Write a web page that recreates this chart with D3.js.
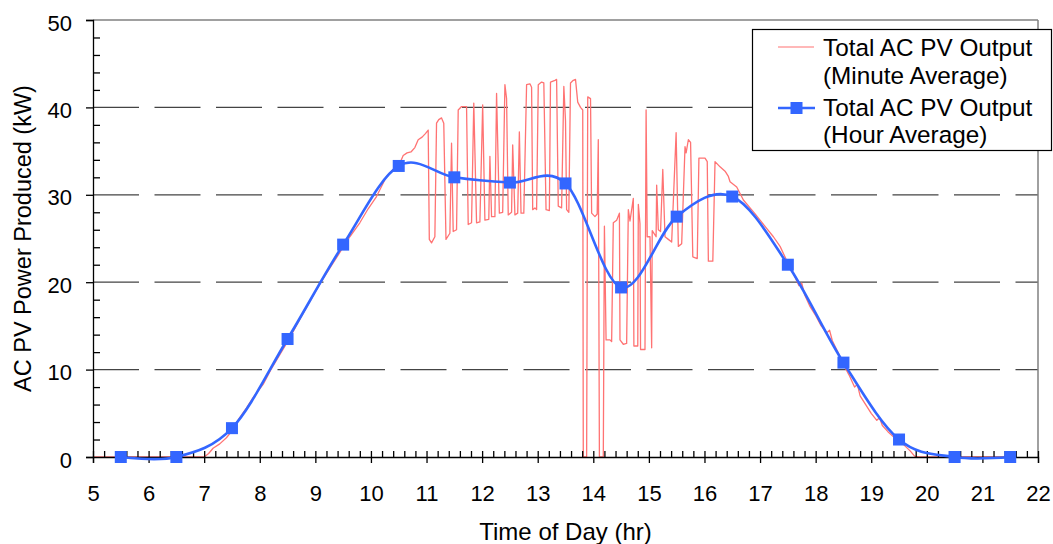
<!DOCTYPE html>
<html>
<head>
<meta charset="utf-8">
<script src="https://cdn.jsdelivr.net/npm/d3@7"></script>
<style>
  html, body { margin: 0; padding: 0; background: #fff; }
  svg { display: block; font-family: "Liberation Sans", Arial, sans-serif; }
</style>
</head>
<body>
<svg id="chart" width="1053" height="544"></svg>
<script>
// ---------------- DATA ----------------
const xTickValues = [5,6,7,8,9,10,11,12,13,14,15,16,17,18,19,20,21,22];
const yTickValues = [0,10,20,30,40,50];
const gridValues = [10,20,30,40];

const hourTimes  = [5.5,6.5,7.5,8.5,9.5,10.5,11.5,12.5,13.5,14.5,15.5,16.5,17.5,18.5,19.5,20.5,21.5];
const hourValues = [0,0,3.3,13.5,24.3,33.3,32.0,31.4,31.3,19.4,27.5,29.8,22.0,10.8,2.0,0,0];

const minuteTimes = [
  5.0,7.0,7.08,7.16,7.28,7.4,7.5,7.64,7.76,7.88,8.06,8.2,8.35,8.5,8.7,8.9,9.1,9.3,9.5,9.62,9.8,9.95,10.1,10.28,10.4,10.5,
  10.58,10.65,10.72,10.79,10.85,10.92,10.98,11.03,11.05,11.09,11.15,11.18,11.22,11.27,11.31,11.35,11.42,11.45,11.48,11.54,
  11.57,11.63,11.72,11.75,11.81,11.85,11.90,11.96,12.01,12.05,12.12,12.14,12.17,12.23,12.26,12.31,12.37,12.41,12.44,12.47,
  12.53,12.55,12.59,12.64,12.67,12.70,12.75,12.80,12.86,12.89,12.91,12.95,12.98,13.01,13.07,13.11,13.15,13.21,13.23,13.31,
  13.34,13.37,13.43,13.47,13.50,13.52,13.56,13.59,13.64,13.68,13.72,13.77,13.81,13.82,13.88,13.90,13.95,13.97,14.03,14.07,
  14.09,14.11,14.18,14.20,14.23,14.30,14.33,14.36,14.42,14.47,14.48,14.54,14.60,14.63,14.66,14.72,14.73,14.80,14.81,14.84,
  14.85,14.93,14.95,14.97,15.02,15.05,15.06,15.13,15.14,15.17,15.21,15.25,15.29,15.35,15.41,15.49,15.53,15.59,15.65,15.67,
  15.71,15.75,15.79,15.87,15.90,16.01,16.05,16.07,16.15,16.19,16.28,16.37,16.43,16.46,
  16.58,16.7,16.82,16.9,17.0,17.1,17.24,17.36,17.5,17.6,17.7,17.75,17.8,17.9,18.0,18.1,18.2,18.25,18.3,18.4,18.5,18.6,18.7,
  18.75,18.8,18.9,19.0,19.1,19.15,19.2,19.3,19.4,19.5,19.6,19.7,19.78,19.85,21.5
];
const minuteValues = [
  0,0,0.4,1.0,1.5,2.2,3.0,4.5,5.6,6.8,8.3,10.0,11.6,13.2,15.5,17.8,20.0,22.0,24.0,25.2,26.8,28.4,29.8,32.1,32.9,33.3,
  34.5,34.8,34.9,35.4,36.3,36.6,37.0,37.4,24.9,24.5,25.2,38.2,38.6,38.8,38.2,24.9,25.6,35.9,25.8,26.0,
  39.7,40.1,40.1,26.6,26.8,40.5,26.8,26.9,40.3,27.1,27.2,34.4,27.5,27.5,41.6,27.9,28.0,42.6,41.0,27.7,
  28.0,35.7,27.7,27.9,37.2,27.9,27.9,42.6,42.7,42.3,28.3,28.5,28.3,42.6,42.9,42.8,28.3,28.2,42.9,43.1,
  43.2,28.7,28.5,42.4,38.5,28.3,28.0,42.8,43.1,43.2,40.6,40.0,39.7,0,0,41.2,41.0,27.9,27.5,27.8,
  36.3,0,0,26.4,13.4,13.4,13.2,26.8,27.1,27.9,13.4,12.9,13.0,28.3,27.0,29.6,12.7,12.7,28.9,26.7,
  12.3,12.3,39.7,25.2,25.2,12.5,25.9,25.2,31.1,26.0,25.8,32.9,25.2,24.9,24.6,37.1,24.1,24.4,35.5,34.8,
  36.3,36.0,22.9,22.7,34.2,34.2,33.8,22.4,22.4,33.8,33.2,32.7,32.1,31.5,
  30.9,29.4,28.5,27.9,27.1,26.3,25.2,24.1,22.2,21.0,19.6,19.9,18.6,17.2,16.2,15.0,14.2,14.5,13.3,12.0,10.6,9.4,8.0,
  8.3,7.0,6.0,5.0,4.2,4.5,3.6,2.9,2.3,1.9,1.3,0.7,0.1,0,0
];

const seriesNames = ["Total AC PV Output", "(Minute Average)", "Total AC PV Output", "(Hour Average)"];
const xTitle = "Time of Day (hr)";
const yTitle = "AC PV Power Produced (kW)";

// ---------------- CHART ----------------
const svg = d3.select("#chart");
const x = d3.scaleLinear().domain([5,22]).range([93,1038]);
const y = d3.scaleLinear().domain([0,50]).range([457,20]);
const FONT = "Liberation Sans, Arial, sans-serif";

// gridlines (dashed)
svg.append("g").selectAll("line").data(gridValues).join("line")
  .attr("x1", x(5)).attr("x2", x(22))
  .attr("y1", d => y(d)).attr("y2", d => y(d))
  .attr("stroke", "#444").attr("stroke-width", 1.2)
  .attr("stroke-dasharray", "46,15.5");

// top and right border
svg.append("line").attr("x1", x(5)).attr("x2", x(22)).attr("y1", y(50)).attr("y2", y(50))
  .attr("stroke", "#808080").attr("stroke-width", 1.5);
svg.append("line").attr("x1", x(22)).attr("x2", x(22)).attr("y1", y(50)).attr("y2", y(0))
  .attr("stroke", "#808080").attr("stroke-width", 1.5);

// minute series
const minuteData = minuteTimes.map((t, i) => [t, minuteValues[i]]);
svg.append("path").datum(minuteData)
  .attr("fill", "none").attr("stroke", "#ff7373").attr("stroke-width", 1.3)
  .attr("stroke-linejoin", "round")
  .attr("d", d3.line().x(d => x(d[0])).y(d => y(d[1])));

// y axis
const yMinor = d3.range(0, 50.01, 2).filter(v => v % 10 !== 0);
const yAxisG = svg.append("g").attr("transform", `translate(${x(5)},0)`)
  .call(d3.axisLeft(y).tickValues(yTickValues).tickSize(7).tickPadding(14).tickFormat(d3.format("d")));
yAxisG.select(".domain").attr("stroke", "#000").attr("stroke-width", 1.3);
yAxisG.selectAll(".tick line").attr("stroke", "#000").attr("stroke-width", 1.3);
yAxisG.selectAll(".tick text").attr("font-family", FONT).attr("font-size", 22)
  .attr("fill", "#000").attr("dy", "0.46em");
const yMinorG = svg.append("g").attr("transform", `translate(${x(5)},0)`)
  .call(d3.axisRight(y).tickValues(yMinor).tickSize(7).tickFormat(""));
yMinorG.select(".domain").remove();
yMinorG.selectAll(".tick line").attr("stroke", "#000").attr("stroke-width", 1.3);

// x axis
const xMinor = d3.range(5, 22.001, 0.2).filter(v => Math.abs(v - Math.round(v)) > 0.01);
const xAxisG = svg.append("g").attr("transform", `translate(0,${y(0)})`)
  .call(d3.axisBottom(x).tickValues(xTickValues).tickSize(6).tickPadding(22).tickFormat(d3.format("d")));
xAxisG.select(".domain").attr("stroke", "#000").attr("stroke-width", 1.3);
xAxisG.selectAll(".tick line").attr("y1", -6).attr("y2", 6).attr("stroke", "#000").attr("stroke-width", 1.3);
xAxisG.selectAll(".tick text").attr("font-family", FONT).attr("font-size", 22).attr("fill", "#000");
const xMinorG = svg.append("g").attr("transform", `translate(0,${y(0)})`)
  .call(d3.axisTop(x).tickValues(xMinor).tickSize(6).tickFormat(""));
xMinorG.select(".domain").remove();
xMinorG.selectAll(".tick line").attr("stroke", "#000").attr("stroke-width", 1.3);

// hour series (smoothed)
const hourData = hourTimes.map((t, i) => [t, hourValues[i]]);
svg.append("path").datum(hourData)
  .attr("fill", "none").attr("stroke", "#3366ff").attr("stroke-width", 2.6)
  .attr("d", d3.line().x(d => x(d[0])).y(d => y(d[1])).curve(d3.curveCardinal.tension(0)));
svg.append("g").selectAll("rect").data(hourData).join("rect")
  .attr("x", d => x(d[0]) - 6).attr("y", d => y(d[1]) - 6)
  .attr("width", 12).attr("height", 12).attr("fill", "#3366ff");

// axis titles
svg.append("text").attr("x", (x(5) + x(22)) / 2).attr("y", 540)
  .attr("text-anchor", "middle").attr("font-family", FONT).attr("font-size", 24)
  .attr("fill", "#000").text(xTitle);
svg.append("text").attr("transform", `translate(31,${(y(0) + y(50)) / 2}) rotate(-90)`)
  .attr("text-anchor", "middle").attr("font-family", FONT).attr("font-size", 23.5)
  .attr("fill", "#000").text(yTitle);

// legend
const lg = svg.append("g");
lg.append("rect").attr("x", 752.5).attr("y", 29.5).attr("width", 299).attr("height", 121)
  .attr("fill", "#fff").attr("stroke", "#000").attr("stroke-width", 1.2);
lg.append("line").attr("x1", 778).attr("x2", 814).attr("y1", 47).attr("y2", 47)
  .attr("stroke", "#ff7373").attr("stroke-width", 1.2);
lg.append("line").attr("x1", 778).attr("x2", 815).attr("y1", 108).attr("y2", 108)
  .attr("stroke", "#3366ff").attr("stroke-width", 2.6);
lg.append("rect").attr("x", 796.5 - 6).attr("y", 108 - 6).attr("width", 12).attr("height", 12)
  .attr("fill", "#3366ff");
const legendY = [56, 84, 116, 143];
lg.selectAll("text.leg").data(seriesNames).join("text").attr("class", "leg")
  .attr("x", 823).attr("y", (d, i) => legendY[i])
  .attr("font-family", FONT).attr("font-size", 24.3).attr("fill", "#000")
  .text(d => d);
</script>
</body>
</html>
